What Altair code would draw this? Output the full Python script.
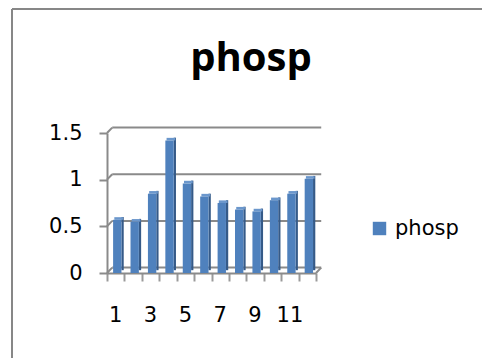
import altair as alt
import pandas as pd

# Series values
categories = list(range(1, 13))
phosp = [0.57, 0.55, 0.85, 1.42, 0.96, 0.82, 0.75, 0.68, 0.66, 0.78, 0.85, 1.01]
y_ticks = [0, 0.5, 1, 1.5]
x_label_values = [1, 3, 5, 7, 9, 11]
series_name = "phosp"

# 3D look: depth offset of the back wall, in data units
DX, DY = 0.3, 0.058

FRONT = "#4F81BD"
SIDE = "#355A88"
CAP = "#6B97CC"
GRAY = "#8A8A8A"
FONT = "DejaVu Sans"
FS = 21

bars = pd.DataFrame({"cat": categories, "value": phosp, "series": series_name})
grid = pd.DataFrame({"v": y_ticks})
xlabels = pd.DataFrame({"cat": x_label_values, "label": [str(c) for c in x_label_values]})

xs = alt.Scale(domain=[0.5, 12.5], nice=False, zero=False)
ys = alt.Scale(domain=[0, 1.5], nice=False)

# one shared axis definition for every layer, so the merged axes agree
x_axis = alt.Axis(
    values=[i + 0.5 for i in range(13)], labels=False, title=None, grid=False,
    tickSize=8, tickWidth=2, tickColor="#9A9A9A", domainColor=GRAY, domainWidth=2)
y_axis = alt.Axis(
    values=y_ticks, format="~g", title=None, grid=False, tickSize=8, tickWidth=2,
    tickColor=GRAY, domainColor=GRAY, domainWidth=2,
    labelFont=FONT, labelFontSize=FS, labelColor="black", labelPadding=17)


def X(field):
    return alt.X(field, scale=xs, axis=x_axis)


def Y(field):
    return alt.Y(field, scale=ys, axis=y_axis)


# back wall gridlines and floor back edge
back = alt.Chart(grid).transform_calculate(
    x0=f"0.5 + {DX}", x1=f"12.5 + {DX}", yb=f"datum.v + {DY}"
).mark_rule(color=GRAY, strokeWidth=2).encode(
    x=X("x0:Q"), x2="x1:Q", y=Y("yb:Q"),
)

# slanted connectors from the front axis to the back wall
diag = alt.Chart(grid).transform_calculate(
    x0="0.5", x1=f"0.5 + {DX}", yb=f"datum.v + {DY}"
).mark_rule(color=GRAY, strokeWidth=2).encode(
    x=X("x0:Q"), x2="x1:Q", y=Y("v:Q"), y2="yb:Q",
)

floor_corner = alt.Chart(pd.DataFrame({"v": [0]})).transform_calculate(
    x0="12.5", x1=f"12.5 + {DX}", yb=f"{DY}"
).mark_rule(color=GRAY, strokeWidth=2).encode(
    x=X("x0:Q"), x2="x1:Q", y=Y("v:Q"), y2="yb:Q",
)

# column side faces and caps
side = alt.Chart(bars).transform_calculate(
    a="datum.cat + 0.33", b="datum.cat + 0.46", lo="0.03", hi="datum.value + 0.03"
).mark_rect(color=SIDE).encode(
    x=X("a:Q"), x2="b:Q", y=Y("lo:Q"), y2="hi:Q",
)
cap = alt.Chart(bars).transform_calculate(
    a="datum.cat - 0.08", b="datum.cat + 0.42", lo="datum.value", hi="datum.value + 0.028"
).mark_rect(color=CAP).encode(
    x=X("a:Q"), x2="b:Q", y=Y("lo:Q"), y2="hi:Q",
)

# column front faces with the legend
front = alt.Chart(bars).transform_calculate(
    a="datum.cat - 0.15", b="datum.cat + 0.33", lo="0"
).mark_rect().encode(
    x=X("a:Q"), x2="b:Q", y=Y("lo:Q"), y2="value:Q",
    color=alt.Color("series:N", scale=alt.Scale(range=[FRONT]), legend=alt.Legend(
        orient="none", legendX=262, legendY=85, title=None, padding=0,
        symbolType="square", symbolSize=180, symbolStrokeWidth=0,
        labelFont=FONT, labelFontSize=FS, labelColor="black", labelOffset=5)),
)

xtext = alt.Chart(xlabels).mark_text(
    font=FONT, fontSize=FS, color="black", baseline="middle"
).encode(
    x=X("cat:Q"), y=alt.value(183), text="label:N",
)

title = alt.Chart(pd.DataFrame({"t": [series_name]})).mark_text(
    font="Open Sans", fontSize=40, fontWeight="bold", color="black",
    align="center", baseline="alphabetic"
).encode(x=alt.value(144), y=alt.value(-62), text="t:N")

# outer chart border (left and top edges)
border_left = alt.Chart(pd.DataFrame({"k": [0]})).mark_rule(
    color="#878787", strokeWidth=2
).encode(x=alt.value(-95), y=alt.value(-124), y2=alt.value(240))
border_top = alt.Chart(pd.DataFrame({"k": [0]})).mark_rule(
    color="#878787", strokeWidth=2
).encode(x=alt.value(-95), x2=alt.value(390), y=alt.value(-124))

chart = alt.layer(
    back, diag, floor_corner, side, cap, front, xtext, title, border_left, border_top
).properties(
    width=209, height=140,
    background="white",
    autosize=alt.AutoSizeParams(type="none"),
    padding={"left": 107, "top": 133, "right": 166, "bottom": 85},
).configure_view(stroke=None)

chart.save("out.html", embed_options={"renderer": "svg", "actions": False})
